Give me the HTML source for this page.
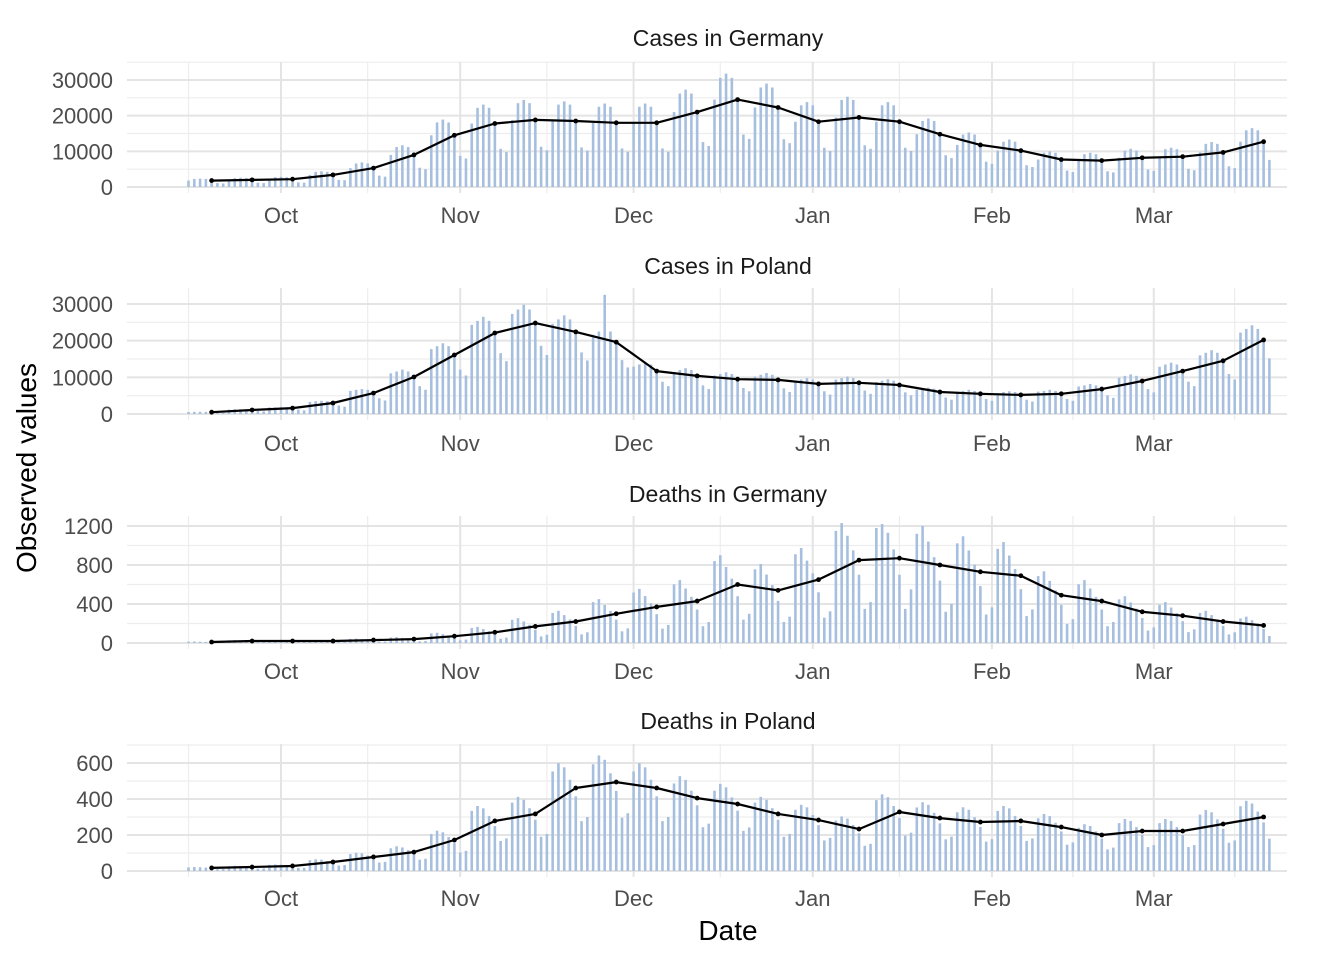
<!DOCTYPE html>
<html><head><meta charset="utf-8">
<style>
html,body{margin:0;padding:0;background:#fff;}
svg{display:block;font-family:"Liberation Sans",Arial,sans-serif;}
</style></head>
<body>
<svg id="chart" width="1344" height="960" viewBox="0 0 1344 960">
<text x="36" y="468" transform="rotate(-90 36 468)" text-anchor="middle" font-size="28" fill="#000">Observed values</text>
<text x="728" y="940" text-anchor="middle" font-size="28" fill="#000">Date</text>
</svg>
<script>
// Day index 0 = Sep 15; weekly points at index 4 + 7k
const monthLabels = ["Oct","Nov","Dec","Jan","Feb","Mar"];
const monthDayIdx = [16,47,77,108,139,167];
const minorDayIdx = [0,31,62,92,123,153,181];
const panelTitles = ["Cases in Germany","Cases in Poland","Deaths in Germany","Deaths in Poland"];
const yTicks1 = [0,10000,20000,30000];
const yTicks2 = [0,10000,20000,30000];
const yTicks3 = [0,400,800,1200];
const yTicks4 = [0,200,400,600];

const dailyGerCases = [1800,2250,2350,2250,1800,1100,1000, 2000,2500,2600,2500,2000,1200,1100, 2200,2750,2850,2750,2200,1300,1200, 3400,4250,4400,4250,3400,2000,1900, 5300,6600,6900,6600,5300,3200,2900, 9000,11200,11700,11200,9000,5400,5000, 14500,18100,18900,18100,14500,8700,8000, 17800,22200,23100,22200,17800,10700,9800, 18800,23500,24400,23500,18800,11300,10300, 18500,23100,24000,23100,18500,11100,10200, 18000,22500,23400,22500,18000,10800,9900, 18000,22500,23400,22500,18000,10800,9900, 21000,26200,27300,26200,21000,12600,11500, 24500,30600,31800,30600,24500,14700,13500, 22300,27900,29000,27900,22300,13400,12300, 18300,22900,23800,22900,18300,11000,10100, 19500,24400,25300,24400,19500,11700,10700, 18300,22900,23800,22900,18300,11000,10100, 14800,18500,19200,18500,14800,8900,8100, 11800,14700,15300,14700,11800,7100,6500, 10200,12700,13300,12700,10200,6100,5600, 7700,9600,10000,9600,7700,4600,4200, 7400,9200,9600,9200,7400,4400,4100, 8200,10200,10700,10200,8200,4900,4500, 8500,10600,11000,10600,8500,5100,4700, 9700,12100,12600,12100,9700,5800,5300, 12700,15900,16500,15900,12700,7600];
const weeklyGerCases = [1800,2000,2200,3400,5300,9000,14500,17800,18800,18500,18000,18000,21000,24500,22300,18300,19500,18300,14800,11800,10200,7700,7400,8200,8500,9700,12700];

const dailyPolCases = [550,580,600,580,500,380,330, 1200,1300,1300,1300,1100,800,700, 1800,1800,1900,1800,1600,1200,1000, 3300,3500,3600,3500,3000,2300,2000, 6300,6600,6800,6600,5700,4300,3700, 11100,11600,12100,11600,10100,7600,6600, 17700,18500,19300,18500,16100,12100,10500, 24300,25400,26500,25400,22100,16600,14400, 27300,28500,29800,28500,24800,18600,16100, 24600,25800,26900,25800,22400,16800,14600, 21600,22500,32500,22500,19600,14700,12700, 12900,13500,14000,13500,11700,8800,7600, 11400,12000,12500,12000,10400,7800,6800, 10500,10900,11400,10900,9500,7100,6200, 10200,10700,11200,10700,9300,7000,6000, 9000,9400,9800,9400,8200,6200,5300, 9400,9800,10200,9800,8500,6400,5500, 8700,9100,9500,9100,7900,5900,5100, 6600,6900,7200,6900,6000,4500,3900, 6100,6300,6600,6300,5500,4100,3600, 5700,6000,6200,6000,5200,3900,3400, 6100,6300,6600,6300,5500,4100,3600, 7500,7800,8200,7800,6800,5100,4400, 9900,10400,10800,10400,9000,6800,5900, 12900,13500,14000,13500,11700,8800,7600, 16000,16700,17400,16700,14500,10900,9400, 22200,23200,24200,23200,20200,15200];
const weeklyPolCases = [500,1100,1600,3000,5700,10100,16100,22100,24800,22400,19600,11700,10400,9500,9300,8200,8500,7900,6000,5500,5200,5500,6800,9000,11700,14500,20200];

const dailyGerDeaths = [14,15,13,11,8,4,5, 28,30,26,22,16,8,10, 28,30,26,22,16,8,10, 28,30,26,22,16,8,10, 42,45,39,33,24,12,15, 56,60,52,44,32,16,20, 98,105,91,77,56,28,35, 154,165,143,121,88,44,55, 238,255,221,187,136,68,85, 308,330,286,242,176,88,110, 420,450,390,330,240,120,150, 518,555,481,407,296,148,185, 602,645,559,473,344,172,215, 840,900,780,660,480,240,300, 756,810,702,594,432,216,270, 910,975,845,715,520,260,325, 1150,1230,1100,950,700,350,420, 1180,1220,1130,960,700,350,550, 1120,1200,1040,880,640,320,400, 1022,1095,949,803,584,292,365, 966,1035,897,759,552,276,345, 686,735,637,539,392,196,245, 602,645,559,473,344,172,215, 448,480,416,352,256,128,160, 392,420,364,308,224,112,140, 308,330,286,242,176,88,110, 252,270,234,198,144,72];
const weeklyGerDeaths = [10,20,20,20,30,40,70,110,170,220,300,370,430,600,540,650,850,870,800,730,690,490,430,320,280,220,180];

const dailyPolDeaths = [20,22,21,19,15,10,11, 26,29,28,24,20,13,14, 34,36,35,31,25,17,18, 60,65,63,55,45,30,33, 94,101,98,86,70,47,51, 126,137,131,116,95,63,68, 206,224,215,189,155,103,112, 334,361,348,306,250,167,181, 380,412,396,349,285,190,206, 553,599,576,507,415,277,300, 593,642,618,543,445,296,321, 553,599,576,507,415,277,300, 486,527,506,446,365,243,263, 446,484,465,409,335,223,242, 380,412,396,349,285,190,206, 340,368,354,311,255,170,184, 280,303,291,256,210,140,151, 394,426,410,361,295,197,213, 353,382,368,323,265,176,191, 326,354,340,299,245,163,177, 334,361,348,306,250,167,181, 293,317,305,268,220,146,159, 240,260,250,220,180,120,130, 266,289,278,244,200,133,144, 266,289,278,244,200,133,144, 313,339,326,287,235,157,170, 360,390,375,330,270,180];
const weeklyPolDeaths = [17,22,28,50,78,105,172,278,317,461,494,461,405,372,317,283,233,328,294,272,278,244,200,222,222,261,300];

const NS = "http://www.w3.org/2000/svg";
const svg = document.getElementById("chart");
function mk(tag, attrs, parent){
  const e = document.createElementNS(NS, tag);
  for (const k in attrs) e.setAttribute(k, attrs[k]);
  (parent||svg).appendChild(e);
  return e;
}
const X0 = 127, X1 = 1287;
function xScale(d){ return 281 + (d - 16) * 5.78; }

const panels = [
  {title: panelTitles[0], daily: dailyGerCases, weekly: weeklyGerCases, ticks: yTicks1, top: 62, bot: 193, y0: 187, yMaxV: 30000, yMaxPx: 80, minorStep: 5000, titleY: 46, xlabY: 223},
  {title: panelTitles[1], daily: dailyPolCases, weekly: weeklyPolCases, ticks: yTicks2, top: 288, bot: 420, y0: 414, yMaxV: 30000, yMaxPx: 304, minorStep: 5000, titleY: 274, xlabY: 451},
  {title: panelTitles[2], daily: dailyGerDeaths, weekly: weeklyGerDeaths, ticks: yTicks3, top: 516, bot: 649, y0: 643, yMaxV: 1200, yMaxPx: 526, minorStep: 200, titleY: 502, xlabY: 679},
  {title: panelTitles[3], daily: dailyPolDeaths, weekly: weeklyPolDeaths, ticks: yTicks4, top: 744, bot: 877, y0: 871, yMaxV: 600, yMaxPx: 763, minorStep: 100, titleY: 729, xlabY: 906}
];

panels.forEach((p, pi) => {
  const g = mk("g", {});
  
  
  const yS = v => p.y0 - v / p.yMaxV * (p.y0 - p.yMaxPx);
  for (let v = p.minorStep; yS(v) >= p.top - 1; v += p.minorStep) {
    if (p.ticks.indexOf(v) < 0) {
      const l = mk("line", {x1: X0, x2: X1, y1: yS(v), y2: yS(v), stroke: "#ededed", "stroke-width": 1.2}, g);
      
      
    }
  }
  minorDayIdx.forEach(d => {
    const l = mk("line", {x1: xScale(d), x2: xScale(d), y1: p.top, y2: p.bot, stroke: "#ededed", "stroke-width": 1.2}, g);
    
    
  });
  p.ticks.forEach(v => {
    const l = mk("line", {x1: X0, x2: X1, y1: yS(v), y2: yS(v), stroke: "#e4e4e4", "stroke-width": 2}, g);
    
    
    const t = mk("text", {x: 113, y: yS(v) + 8, "text-anchor": "end", "font-size": 22, fill: "#4d4d4d"}, g);
    t.textContent = v;
    
    
  });
  monthDayIdx.forEach((d, i) => {
    const l = mk("line", {x1: xScale(d), x2: xScale(d), y1: p.top, y2: p.bot, stroke: "#e4e4e4", "stroke-width": 2}, g);
    
    
    const t = mk("text", {x: xScale(d), y: p.xlabY, "text-anchor": "middle", "font-size": 22, fill: "#4d4d4d"}, g);
    t.textContent = monthLabels[i];
    
    
  });
  const tt = mk("text", {x: 728, y: p.titleY, "text-anchor": "middle", "font-size": 23, fill: "#1a1a1a"}, g);
  tt.textContent = p.title;
  
  
  p.daily.forEach((v, d) => {
    const y = yS(v);
    const b = mk("rect", {x: xScale(d) - 1.3, y: y, width: 2.6, height: Math.max(0, p.y0 - y), fill: "#a7bfdf"}, g);
    
    
  });
  const pts = p.weekly.map((v, k) => xScale(4 + 7*k).toFixed(1) + "," + yS(v).toFixed(1)).join(" ");
  const pl = mk("polyline", {points: pts, fill: "none", stroke: "#000", "stroke-width": 2.2, "stroke-linejoin": "round"}, g);
  
  
  p.weekly.forEach((v, k) => {
    const c = mk("circle", {cx: xScale(4 + 7*k), cy: yS(v), r: 2.4, fill: "#000"}, g);
    
    
  });
});
</script>
</body></html>
